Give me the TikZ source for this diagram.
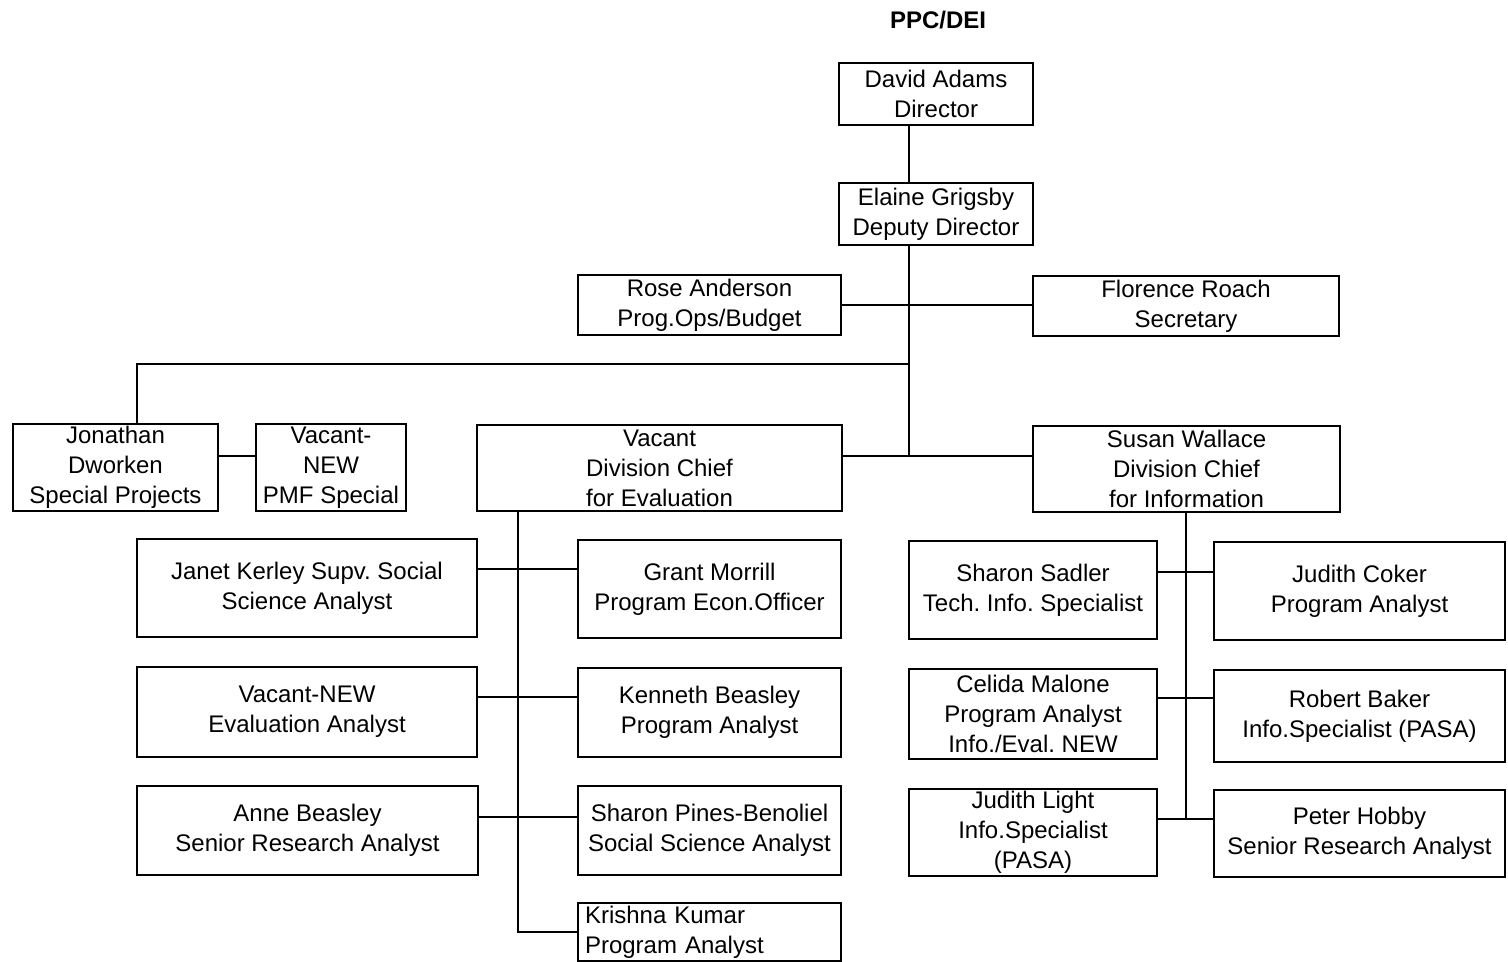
\documentclass[tikz,border=0pt]{standalone}
\usepackage{fontspec}
\setmainfont{Liberation Sans}
\frenchspacing
\usetikzlibrary{positioning}
\tikzset{
	every node/.style={font=\fontsize{12pt}{15pt}\selectfont}, % one text size for every box
	box/.style={draw, line width=1pt, align=center, inner sep=0pt}, % a box of the chart
	link/.style={line width=1pt}, % the lines between the boxes
}

\begin{document}
\begin{tikzpicture}[x=0.5pt, y=-0.5pt]
			\useasboundingbox (0,0) rectangle (1508,962);
			\node (TITLE) at (938,20) {\textbf{PPC/DEI}};
			\node[box, minimum width=97pt, minimum height=31pt] (DIRECTOR) at (936,94) {David Adams\\Director};
			\node[box, minimum width=97pt, minimum height=31pt] (DEPUTY) at (936,214) {Elaine Grigsby\\Deputy Director};
			\node[box, minimum width=131.5pt, minimum height=30pt] (BUDGET) at (709.5,305) {Rose Anderson\\Prog.Ops/Budget};
			\node[box, minimum width=153pt, minimum height=30pt] (SECRETARY) at (1186,306) {Florence Roach\\Secretary};
			\node[box, minimum width=102.5pt, minimum height=43.5pt] (SPECIAL_PROJ) at (115.5,467.5) {Jonathan\\Dworken\\Special Projects};
			\node[box, minimum width=75pt, minimum height=43.5pt] (PMF) at (331,467.5) {Vacant-\\NEW\\PMF Special};
			\node[box, minimum width=182.5pt, minimum height=43pt] (EVAL_CHIEF) at (659.5,468) {Vacant\\Division Chief\\for Evaluation};
			\node[box, minimum width=153.5pt, minimum height=43pt] (INFO_CHIEF) at (1186.5,469) {Susan Wallace\\Division Chief\\for Information};

			\node[box, minimum width=170pt, minimum height=49pt] (SUPV_SSA) at (307,588) {Janet Kerley Supv. Social\\Science Analyst};
			\node[box, minimum width=131.5pt, minimum height=49pt] (ECON_OFFICER) at (709.5,589) {Grant Morrill\\Program Econ.Officer};
			\node[box, minimum width=170pt, minimum height=45pt] (EVAL_ANALYST) at (307,712) {Vacant-NEW\\Evaluation Analyst};
			\node[box, minimum width=131.5pt, minimum height=44.5pt] (PROG_ANALYST_E1) at (709.5,712.5) {Kenneth Beasley\\Program Analyst};
			\node[box, minimum width=170.5pt, minimum height=44.5pt] (SR_ANALYST_E) at (307.5,830.5) {Anne Beasley\\Senior Research Analyst};
			\node[box, minimum width=131.5pt, minimum height=44.5pt] (SSA) at (709.5,830.5) {Sharon Pines-Benoliel\\Social Science Analyst};
			\node[box, align=left, inner xsep=3.5pt, text width=124.5pt, minimum height=29pt] (PROG_ANALYST_E2) at (709.5,932) {Krishna Kumar\\Program Analyst};

			\node[box, minimum width=124pt, minimum height=49pt] (TECH_INFO) at (1033,590) {Sharon Sadler\\Tech. Info. Specialist};
			\node[box, minimum width=145.5pt, minimum height=49pt] (PROG_ANALYST_I1) at (1359.5,591) {Judith Coker\\Program Analyst};
			\node[box, minimum width=124pt, minimum height=45pt] (PROG_ANALYST_I2) at (1033,714) {Celida Malone\\Program Analyst\\Info./Eval. NEW};
			\node[box, minimum width=145.5pt, minimum height=46pt] (INFO_SPEC_1) at (1359.5,716) {Robert Baker\\Info.Specialist (PASA)};
			\node[box, minimum width=124pt, minimum height=43.5pt] (INFO_SPEC_2) at (1033,832.5) {Judith Light\\Info.Specialist\\(PASA)};
			\node[box, minimum width=145.5pt, minimum height=43.5pt] (SR_ANALYST_I) at (1359.5,833.5) {Peter Hobby\\Senior Research Analyst};

			\coordinate (SPINE) at (909,0);
			\coordinate (EVAL_SPINE) at (518,0);
			\coordinate (INFO_SPINE) at (1186,0);
			\coordinate (LEFT_TURN) at (137,364);
			\coordinate (CHIEF_LINK) at ([yshift=6pt]EVAL_CHIEF.east);
			\coordinate (INFO_END) at ([yshift=6.75pt]INFO_SPEC_2.east);

			\draw[link] (SPINE |- DIRECTOR.south) -- (SPINE |- DEPUTY.north);
			\draw[link] (SPINE |- DEPUTY.south) -- (SPINE |- CHIEF_LINK);
			\draw[link] (BUDGET.east) -- (BUDGET.east -| SECRETARY.west);
			\draw[link] (SPINE |- LEFT_TURN) -- (LEFT_TURN) -- (LEFT_TURN |- SPECIAL_PROJ.north);
			\draw[link] ([yshift=6pt]SPECIAL_PROJ.east) -- ([yshift=6pt]PMF.west);
			\draw[link] (CHIEF_LINK) -- (CHIEF_LINK -| INFO_CHIEF.west);
			\draw[link] (EVAL_SPINE |- EVAL_CHIEF.south) -- (EVAL_SPINE |- PROG_ANALYST_E2.west) -- (PROG_ANALYST_E2.west);
			\draw[link] (INFO_SPINE |- INFO_CHIEF.south) -- (INFO_SPINE |- INFO_END);
			\foreach \l/\r/\s in {SUPV_SSA/ECON_OFFICER/9.5, EVAL_ANALYST/PROG_ANALYST_E1/7.5, SR_ANALYST_E/SSA/6.75, TECH_INFO/PROG_ANALYST_I1/9, PROG_ANALYST_I2/INFO_SPEC_1/8, INFO_SPEC_2/SR_ANALYST_I/6.75}
				\draw[link] ([yshift=\s pt]\l.east) -- ([yshift=\s pt]\l.east -| \r.west);
		\end{tikzpicture}
\end{document}
